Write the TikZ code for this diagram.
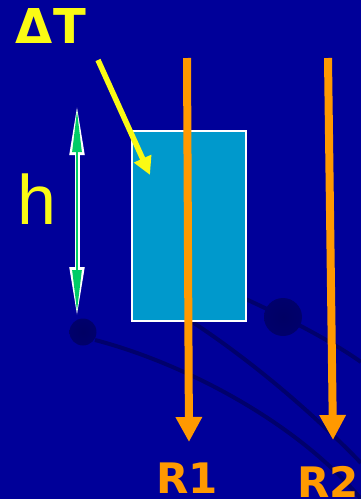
\documentclass[tikz,border=0pt]{standalone}
\usepackage{fontspec}
\setmainfont{DejaVu Sans}
\newfontfamily\hfont{Liberation Sans}
\usetikzlibrary{arrows.meta}
\definecolor{bgblue}{RGB}{0,0,153}
\definecolor{bgdark}{RGB}{0,0,108}
\definecolor{bgcirc}{RGB}{0,0,100}
\definecolor{ylw}{RGB}{250,250,20}
\definecolor{orng}{RGB}{255,153,0}
\definecolor{grn}{RGB}{0,204,102}
\definecolor{cyanbox}{RGB}{0,153,204}
\tikzset{
  lbl/.style={inner sep=0pt, outer sep=0pt},
  ralarrow/.style={orng, line width=8pt, -{Triangle[length=25pt,width=25pt]}},
  bgcurve/.style={bgdark, line width=4pt},
}
\begin{document}
\begin{tikzpicture}[x=1pt,y=-1pt]
\useasboundingbox (0,0) rectangle (361,499);
\fill[bgblue] (0,0) rectangle (361,499);
% background decoration
\draw[bgcurve] (230,292) .. controls (280,314) and (330,340) .. (361,362);
\draw[bgcurve] (180,314) .. controls (240,352) and (305,405) .. (361,463);
\draw[bgcurve] (95,340) .. controls (180,362) and (295,420) .. (361,499);
\shade[inner color=bgcirc, outer color=bgcirc!85!bgblue] (83,332) circle (13.5);
\shade[inner color=bgcirc, outer color=bgcirc!85!bgblue] (283,317) circle (19);
% box
\node[draw=white, line width=1.5pt, fill=cyanbox, minimum width=114pt, minimum height=190pt, inner sep=0pt, anchor=north west] (box) at (131,130) {};
% texts
\node[lbl, ylw, font=\bfseries\fontsize{48}{48}\selectfont, anchor=base west] (dT) at (16,43) {ΔT};
\node[lbl, ylw, font=\hfont\fontsize{70}{70}\selectfont, anchor=base west] (h) at (17.5,224) {h};
\node[lbl, orng, font=\bfseries\fontsize{42}{42}\selectfont, anchor=base west] (r1) at (156,493) {R1};
\node[lbl, orng, font=\bfseries\fontsize{42}{42}\selectfont, anchor=base west] (r2) at (297,497) {R2};
% coordinates
\coordinate (yS) at (98,60);
\coordinate (yE) at (150,175);
\coordinate (gT) at (77,105);
\coordinate (gB) at (77,317);
\coordinate (gTi) at (77,110);
\coordinate (gBi) at (77,312);
\coordinate (r1S) at (187,58);
\coordinate (r1E) at (189,442);
\coordinate (r2S) at (328,58);
\coordinate (r2E) at (333,440);
% yellow arrow
\draw[ylw, line width=5.5pt, -{Triangle[length=18pt,width=18pt]}] (yS) -- (yE);
% green double arrow with white outline
\draw[white, line width=5pt, {Triangle[length=50pt,width=14pt]}-{Triangle[length=50pt,width=14pt]}] (gT) -- (gB);
\draw[grn, line width=2.5pt, {Triangle[length=42pt,width=9pt]}-{Triangle[length=42pt,width=9pt]}] (gTi) -- (gBi);
% orange arrows
\draw[ralarrow] (r1S) -- (r1E);
\draw[ralarrow] (r2S) -- (r2E);
\end{tikzpicture}
\end{document}
